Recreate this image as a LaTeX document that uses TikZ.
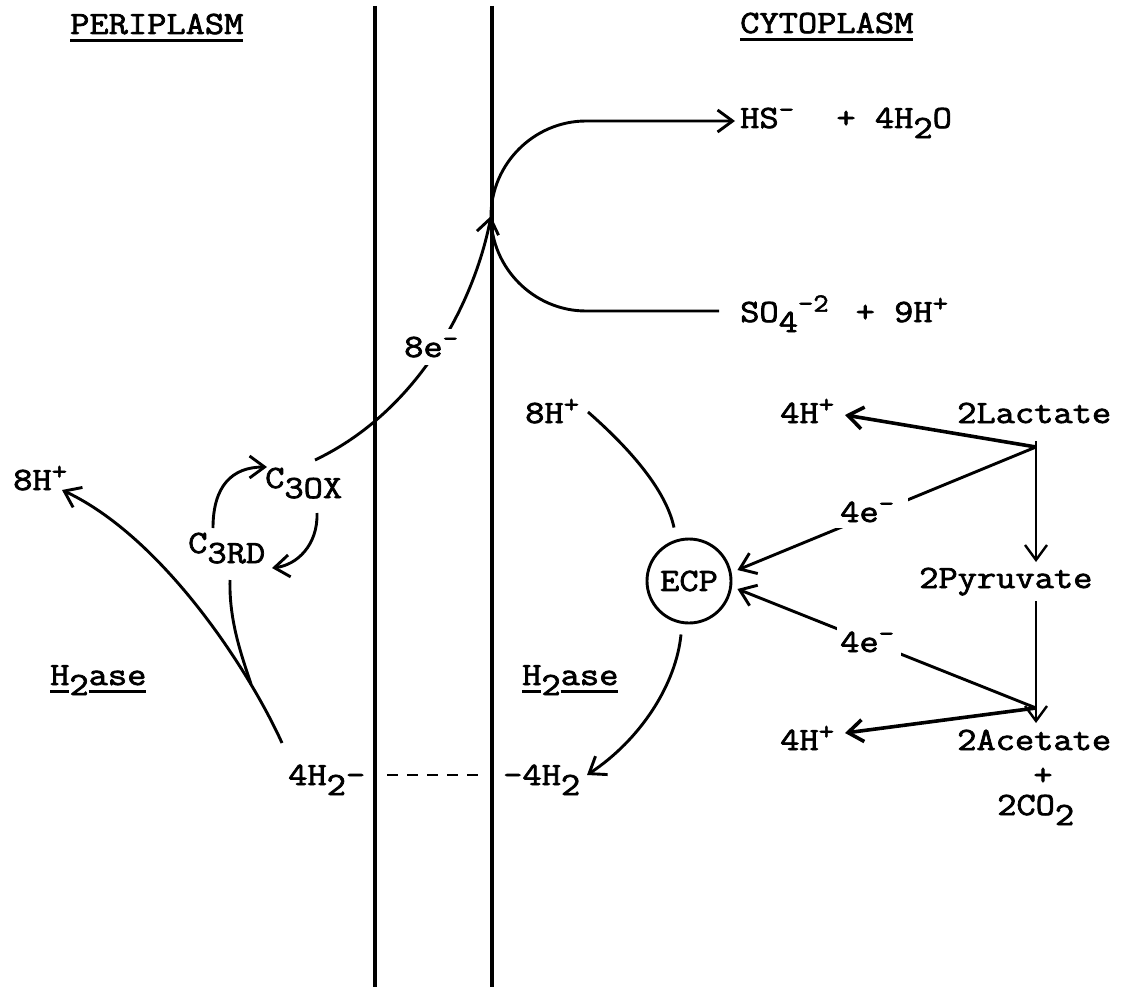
\documentclass[tikz,border=0pt]{standalone}
\usepackage{fontspec}
\newfontfamily\typeface{Latin Modern Mono}[FakeStretch=1.15,FakeBold=2.2]
\usetikzlibrary{arrows.meta,calc}
\newcommand\sups[1]{\setbox0\hbox{#1}\hbox to \wd0{\raisebox{0.32em}{\scalebox{0.8}{#1}}\hss}}
\newcommand\subs[1]{\raisebox{-0.31em}{#1}}
\newcommand\ulin[1]{\setbox0\hbox{#1}\rlap{\rule[-0.24em]{\wd0}{0.08em}}\box0}
\begin{document}
\begin{tikzpicture}[x=1pt,y=-1pt,
  every node/.style={inner sep=0pt, font=\typeface\fontsize{32.5}{36}\selectfont},
  lbl/.style={anchor=base west},
  conn/.style={line width=2.9pt},
  arr/.style={conn, -{Straight Barb[length=15pt,width=22pt]}},
  heavyarr/.style={line width=3.6pt, -{Straight Barb[length=15pt,width=22pt]}},
  varr/.style={line width=2.4pt, -{Straight Barb[length=15pt,width=22pt]}},
  memb/.style={line width=3.2pt},
  blank/.style={lbl, fill=white}
]
\useasboundingbox (0,0) rectangle (1121,987);
\fill[white] (0,0) rectangle (1121,987);

% membranes
\coordinate (m1t) at (375,6); \coordinate (m1b) at (375,987);
\coordinate (m2t) at (492,6); \coordinate (m2b) at (492,987);
\draw[memb] (m1t) -- (m1b);
\draw[memb] (m2t) -- (m2b);

% text nodes
\node[lbl] (peri) at (70,34) {\ulin{PERIPLASM}};
\node[lbl] (cyto) at (740,33) {\ulin{CYTOPLASM}};
\node[lbl] (hs) at (740,128) {HS\sups{-}~~+~4H\subs{2}O};
\node[lbl] (so4) at (740,322) {SO\subs{4}\sups{-2}~+~9H\sups{+}};
\node[lbl] (c3ox) at (265,488) {C\subs{3OX}};
\node[lbl] (c3rd) at (188,553) {C\subs{3RD}};
\node[lbl] (hpl) at (13,490) {8H\sups{+}};
\node[lbl] (h2asel) at (50,685) {\ulin{H}\subs{2}\ulin{ase}};
\node[lbl] (h2aser) at (522,685) {\ulin{H}\subs{2}\ulin{ase}};
\node[lbl] (h2l) at (288,785) {4H\subs{2}-};
\node[lbl] (h2r) at (503,785) {-4H\subs{2}};
\node[lbl] (hpr) at (525,423) {8H\sups{+}};
\node[circle, draw, line width=2.9pt, minimum size=84pt] (ecp) at (689,581) {ECP};
\node[lbl] (h4a) at (780,423) {4H\sups{+}};
\node[lbl] (lac) at (957,423) {2Lactate};
\node[lbl] (pyr) at (919,588) {2Pyruvate};
\node[lbl] (h4b) at (780,750) {4H\sups{+}};
\node[lbl] (ace) at (957,750) {2Acetate};
\node[anchor=base] (plus) at (1043,785) {+};
\node[lbl] (co2) at (997,815) {2CO\subs{2}};

% sulfate reduction loop
\coordinate (J) at (491,216);
\draw[arr] ($(so4.base west)+(-21,-11)$) -- ($(so4.base west)+(-154,-11)$)
  .. controls +(-52,0) and +(0,52) .. (J)
  .. controls +(0,-52) and +(-52,0) .. ($(hs.base west)+(-154,-7)$)
  -- ($(hs.base west)+(-5,-7)$);

% 8e- from C3ox
\draw[arr] ($(c3ox.base west)+(50,-28)$) .. controls (420,410) and (475,300) .. (J);

% cytochrome cycle
\draw[arr] ($(c3rd.base west)+(25,-25)$) .. controls +(0,-42) and +(-35,0) .. ($(c3ox.base west)+(2,-21)$);
\draw[arr] ($(c3ox.base west)+(52,25)$) .. controls +(1,32) and +(25,-3) .. ($(c3rd.base west)+(84,15)$);

% periplasmic hydrogenase
\coordinate (merge) at (251,684);
\draw[conn] ($(c3rd.base west)+(42,27)$) .. controls +(-1,40) and +(-10,-30) .. (merge);
\draw[arr] ($(h2l.base west)+(-6,-42)$) .. controls (248,668) and (162,537) .. ($(hpl.base west)+(49,0)$);

% H2 across membrane
\draw[conn, dash pattern=on 11pt off 9pt] ($(h2l.base west)+(99,-10)$) -- ($(h2r.base west)+(-25,-10)$);

% cytoplasmic hydrogenase
\draw[conn] ($(hpr.base west)+(63,-11)$) .. controls (620,440) and (665,485) .. ($(ecp.north)+(-15,-10)$);
\draw[arr] ($(ecp.south)+(-8,10)$) .. controls (676,685) and (640,740) .. ($(h2r.base west)+(84,-10)$);

% lactate oxidation
\coordinate (B1) at ($(lac.base west)+(79,24)$);
\coordinate (B2) at ($(ace.base west)+(79,-42)$);
\draw[varr] ($(lac.base west)+(79,18)$) -- ($(pyr.base west)+(117,-26)$);
\draw[varr] ($(pyr.base west)+(117,13)$) -- ($(ace.base west)+(79,-27)$);
\draw[heavyarr] (B1) -- ($(h4a.base west)+(65,-8)$);
\draw[heavyarr] (B2) -- ($(h4b.base west)+(65,-17)$);
\draw[arr] (B1) -- ($(ecp.east)+(5,-11)$);
\draw[arr] (B2) -- ($(ecp.east)+(5,8)$);

% labels on connectors
\node[blank, inner ysep=8pt] (e8) at (404,357) {8e\sups{-}};
\node[blank, inner xsep=10pt, inner ysep=6pt] (e4a) at (830,522) {4e\sups{-}};
\node[blank, inner xsep=3pt, inner ysep=6pt] (e4b) at (837,652) {4e\sups{-}};
\end{tikzpicture}
\end{document}
